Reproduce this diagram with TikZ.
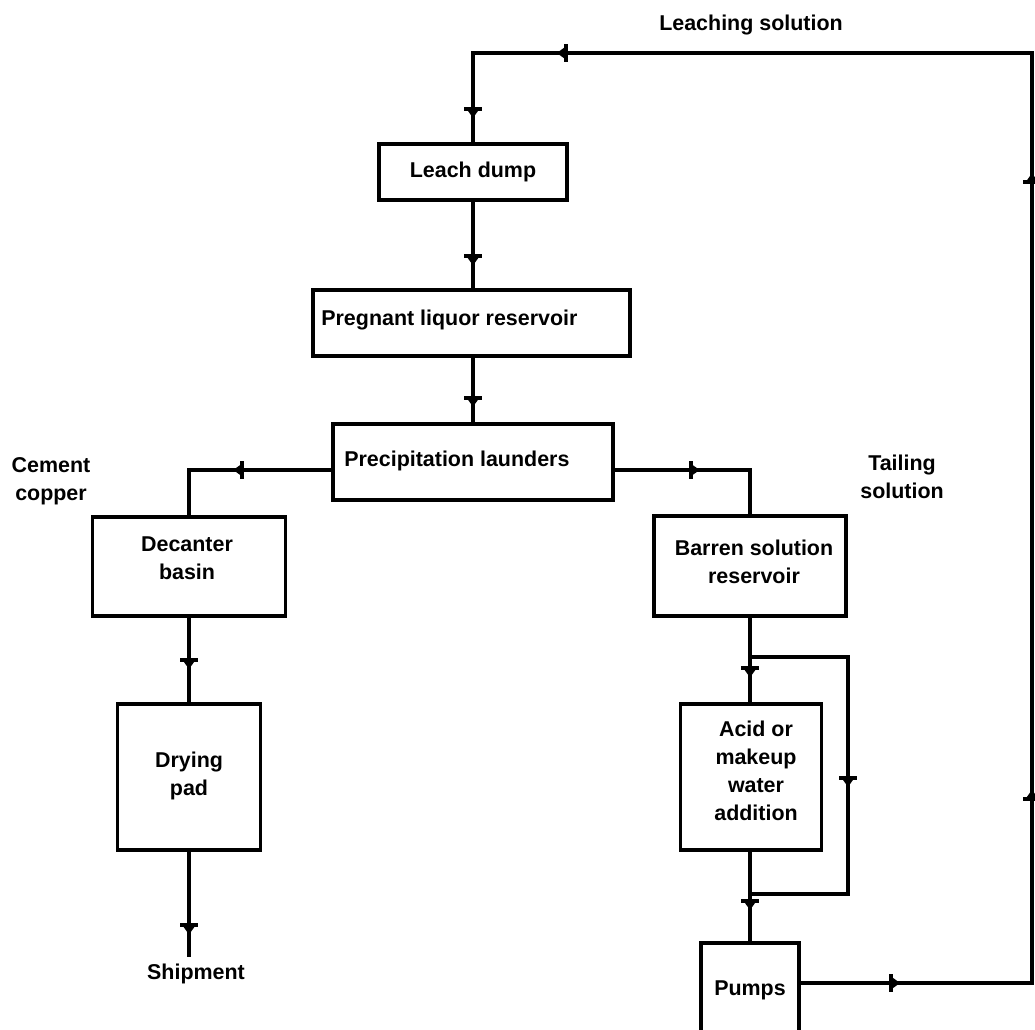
\documentclass[tikz,border=0pt]{standalone}
\usepackage{fontspec}
\setmainfont{Liberation Sans}
\begin{document}
\begin{tikzpicture}[x=0.02cm,y=-0.02cm,
  box/.style={draw,line width=2.2pt,inner sep=0pt},
  flow/.style={draw,line width=2.2pt,line join=miter},
  lbl/.style={font=\bfseries\fontsize{12.2}{15.9}\selectfont,align=center,inner sep=0pt},
  lbll/.style={lbl,align=left,anchor=west},
  tip/.pic={\fill (-2,-9) rectangle (2,9); \fill (0,-6.5)--(9,0)--(0,6.5)--cycle;},
  mk/.style={pos=#1,sloped,allow upside down}]
\useasboundingbox (0,0) rectangle (1035,1030);
\fill[white] (0,0) rectangle (1035,1030);
% boxes
\node[box,line width=2.6pt,minimum width=3.76cm,minimum height=1.12cm,lbl] (leach) at (473,172) {Leach dump};
\node[box,minimum width=6.34cm,minimum height=1.32cm] (preg) at (471.5,323) {};
\node[lbll] (pregt) at (321,320) {Pregnant liquor reservoir};
\node[box,minimum width=5.6cm,minimum height=1.52cm] (precip) at (473,462) {};
\node[lbll] (precipt) at (344,461) {Precipitation launders};
\node[box,minimum width=3.86cm,minimum height=1.98cm] (decant) at (189,566.5) {};
\node[lbl] (decantt) at (187,558) {Decanter\\basin};
\node[box,minimum width=2.86cm,minimum height=2.92cm] (dry) at (189,777) {};
\node[lbl] (dryt) at (189,776) {Drying\\pad};
\node[box,minimum width=3.84cm,minimum height=2.0cm] (barren) at (750,566) {};
\node[lbl] (barrent) at (754,562) {Barren solution\\reservoir};
\node[box,minimum width=2.82cm,minimum height=2.92cm] (acid) at (751,777) {};
\node[lbl] (acidt) at (756,771) {Acid or\\makeup\\water\\addition};
\node[box,minimum width=1.96cm,minimum height=1.88cm,lbl] (pumps) at (750,990) {Pumps};
% free labels
\node[lbl] (leachsol) at (751,25) {Leaching solution};
\node[lbl] (cement) at (51,481) {Cement\\copper};
\node[lbl] (tailing) at (902,477) {Tailing\\solution};
\node[lbl] (ship) at (196,974) {Shipment};
% coordinates
\coordinate (c1) at (1032,983);
\coordinate (c2) at (1032,53);
\coordinate (c3) at (473,53);
\coordinate (lv) at (0,470);
\coordinate (shipend) at (189,957);
\coordinate (b1) at (750,657);
\coordinate (b2) at (848,657);
\coordinate (b3) at (848,894);
\coordinate (b4) at (750,894);
% connectors with arrowheads
\draw[flow] (pumps.east |- c1) -- (c1) pic[mk=0.39]{tip}
  -- (c2) pic[mk=0.198]{tip} pic[mk=0.861]{tip}
  -- (c3) pic[mk=0.834]{tip}
  -- (leach.north) pic[mk=0.63]{tip};
\draw[flow] (leach.south) -- (preg.north -| leach.south) pic[mk=0.63]{tip};
\draw[flow] (preg.south -| precip.north) -- (precip.north) pic[mk=0.62]{tip};
\draw[flow] (precip.west |- lv) -- (decant.north |- lv) pic[mk=0.625]{tip} -- (decant.north);
\draw[flow] (precip.east |- lv) -- (barren.north |- lv) pic[mk=0.56]{tip} -- (barren.north);
\draw[flow] (decant.south) -- (dry.north) pic[mk=0.5]{tip};
\draw[flow] (dry.south) -- (shipend) pic[mk=0.7]{tip};
\draw[flow] (barren.south) -- (acid.north -| barren.south) pic[mk=0.6]{tip};
\draw[flow] (b1) -- (b2) -- (b3) pic[mk=0.51]{tip} -- (b4);
\draw[flow] (acid.south -| pumps.north) -- (pumps.north) pic[mk=0.55]{tip};
\end{tikzpicture}
\end{document}
